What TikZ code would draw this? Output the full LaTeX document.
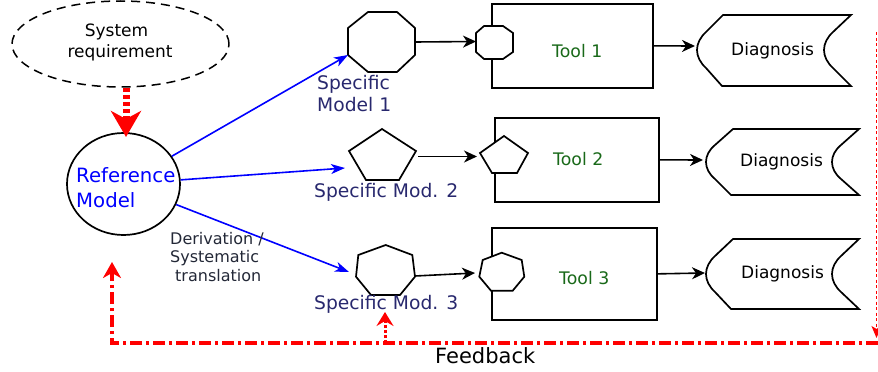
\documentclass[tikz,border=0pt]{standalone}
\usepackage{fontspec}
\setmainfont{DejaVu Sans}
\usetikzlibrary{arrows.meta,shapes.geometric}
\definecolor{navy}{RGB}{40,40,110}
\definecolor{toolgreen}{RGB}{25,105,25}
\definecolor{dergray}{RGB}{35,40,55}
\begin{document}
\begin{tikzpicture}[x=1pt,y=-1pt,
  shp/.style={draw=black,line width=1.7pt,fill=white,line join=miter},
  box/.style={draw=black,line width=1.7pt,anchor=north west,inner sep=0pt},
  blk/.style={black,line width=1.6pt,-{Stealth[length=13pt,width=12pt,inset=4pt]}},
  blu/.style={blue,line width=1.6pt,-{Stealth[length=14pt,width=10pt,inset=4pt]}},
  lbl/.style={inner sep=0pt,anchor=base west},
  specfont/.style={lbl,text=navy,font=\fontsize{18.7}{22}\selectfont},
  toolfont/.style={lbl,text=toolgreen,font=\fontsize{17.3}{20}\selectfont},
  diagfont/.style={lbl,text=black,font=\fontsize{17}{20}\selectfont},
  derfont/.style={lbl,text=dergray,font=\fontsize{16}{18.5}\selectfont}]
\useasboundingbox (0,0) rectangle (878,372);

% System requirement
\node[ellipse,draw,line width=1.5pt,dash pattern=on 9pt off 6pt,
      minimum width=217pt,minimum height=86pt,inner sep=0pt] (sys) at (120.5,44) {};
\node[inner sep=0pt,anchor=base,font=\fontsize{17}{20}\selectfont] (sys1) at (116.5,36.7) {System};
\node[inner sep=0pt,anchor=base,font=\fontsize{17}{20}\selectfont] (sys2) at (120,57.3) {requirement};

% Reference model
\node[ellipse,draw,line width=1.7pt,minimum width=113pt,minimum height=102pt,inner sep=0pt] (ref) at (123.5,184) {};
\node[lbl,text=blue,font=\fontsize{19.7}{24}\selectfont] (ref1) at (76,182.7) {Reference};
\node[lbl,text=blue,font=\fontsize{19.7}{24}\selectfont] (ref2) at (76,207.3) {Model};

\coordinate (sysout) at (126,88);
\coordinate (refin) at (126,137);
\draw[red,line width=7pt,dash pattern=on 4pt off 3pt,
      -{Stealth[length=26pt,width=30pt,inset=8pt]}] (sysout) -- (refin);

% Specific models
\draw[shp] (368,12) -- (397,12) -- (415,28) -- (415,55) -- (397,72) -- (368,72) -- (348,55) -- (348,28) -- cycle;
\draw[shp] (382,129) -- (416,151) -- (399,180) -- (366,180) -- (349,151) -- cycle;
\draw[shp] (385.7,245) -- (412.3,255) -- (415,276.7) -- (400,295) -- (371,295) -- (356,276.7) -- (358.3,255) -- cycle;

\node[specfont] (sm1a) at (317,89.6) {Specific};
\node[specfont] (sm1b) at (317,111.7) {Model 1};
\node[specfont] (sm2) at (314,197.3) {Specific Mod. 2};
\node[specfont] (sm3) at (314,309.3) {Specific Mod. 3};

\coordinate (sm1in) at (348,55);
\coordinate (sm2in) at (345,168);
\coordinate (sm3in) at (349,272);
\draw[blu] (ref) -- (sm1in);
\draw[blu] (ref) -- (sm2in);
\draw[blu] (ref) -- (sm3in);

\node[derfont] (der1) at (170,244.3) {Derivation /};
\node[derfont] (der2) at (170,262.7) {Systematic};
\node[derfont] (der3) at (175,281) {translation};

% Tools
\node[box,minimum width=161pt,minimum height=84pt] (tool1) at (491,3) {};
\node[box,minimum width=164pt,minimum height=84pt] (tool2) at (494,117) {};
\node[box,minimum width=165pt,minimum height=92pt] (tool3) at (491,227) {};

\draw[shp] (484,26) -- (503,26) -- (513,33) -- (513,52) -- (503,59) -- (484,59) -- (476,52) -- (476,33) -- cycle;
\draw[shp] (504,136) -- (528,153) -- (517,173) -- (492,173) -- (480,153) -- cycle;
\draw[shp] (501.7,252.7) -- (521.7,260) -- (524.3,276.7) -- (512.7,290.7) -- (491,290.7) -- (479.3,276.7) -- (482.7,260) -- cycle;

\node[toolfont] (t1) at (552,57.3) {Tool 1};
\node[toolfont] (t2) at (553,165.7) {Tool 2};
\node[toolfont] (t3) at (559,284.3) {Tool 3};

\coordinate (sm1out) at (415,42);
\coordinate (tl1in) at (476,41.5);
\coordinate (sm2out) at (418,156.5);
\coordinate (tl2in) at (477,156.5);
\coordinate (sm3out) at (415,276);
\coordinate (tl3in) at (475,273);
\draw[blk] (sm1out) -- (tl1in);
\draw[blk] (sm2out) -- (tl2in);
\draw[blk] (sm3out) -- (tl3in);

% Diagnosis shapes
\draw[shp] (723,15) -- (851,15) -- (833,32) .. controls (821,43) and (821,57) .. (833,68) -- (851,86) -- (722,86) -- (706,68) .. controls (694,57) and (694,43) .. (706,32) -- cycle;
\draw[shp] (733,129) -- (859,129) -- (841,145) .. controls (829,155) and (829,169) .. (841,179) -- (859,195) -- (731,195) -- (715,179) .. controls (703,169) and (703,155) .. (715,145) -- cycle;
\draw[shp] (733,239) -- (859,239) -- (841,256) .. controls (829,267) and (829,281) .. (841,292) -- (859,309) -- (731,309) -- (715,292) .. controls (703,281) and (703,267) .. (715,256) -- cycle;

\node[diagfont] (dg1) at (731,55) {Diagnosis};
\node[diagfont] (dg2) at (740,166) {Diagnosis};
\node[diagfont] (dg3) at (741,278.3) {Diagnosis};

\coordinate (d1in) at (695,46);
\coordinate (d2in) at (703,160);
\coordinate (d3in) at (705,273);
\draw[blk] (tool1.east) -- (d1in);
\draw[blk] (tool2.east) -- (d2in);
\draw[blk] (tool3.east) -- (d3in);

% Feedback
\coordinate (fbtop) at (876.5,32);
\coordinate (fbend) at (876.5,338);
\draw[red,line width=1pt,dash pattern=on 3pt off 2.5pt,
      -{Stealth[length=12pt,width=10pt,inset=3pt]}] (fbtop) -- (fbend);
\coordinate (fbr) at (878,343);
\coordinate (fbl) at (112,343);
\coordinate (fbrefin) at (112,262);
\draw[red,line width=4pt,dash pattern=on 12pt off 4pt on 3pt off 4pt,
      -{Stealth[length=16pt,width=18pt,inset=5pt]}] (fbr) -- (fbl) -- (fbrefin);
\coordinate (fbm) at (385,343);
\coordinate (fbsm3) at (385,312);
\draw[red,line width=3pt,dash pattern=on 3pt off 2pt,
      -{Stealth[length=14pt,width=17pt,inset=5pt]}] (fbm) -- (fbsm3);
\node[lbl,font=\fontsize{21}{24}\selectfont] (fb) at (435,363.3) {Feedback};
\end{tikzpicture}
\end{document}
